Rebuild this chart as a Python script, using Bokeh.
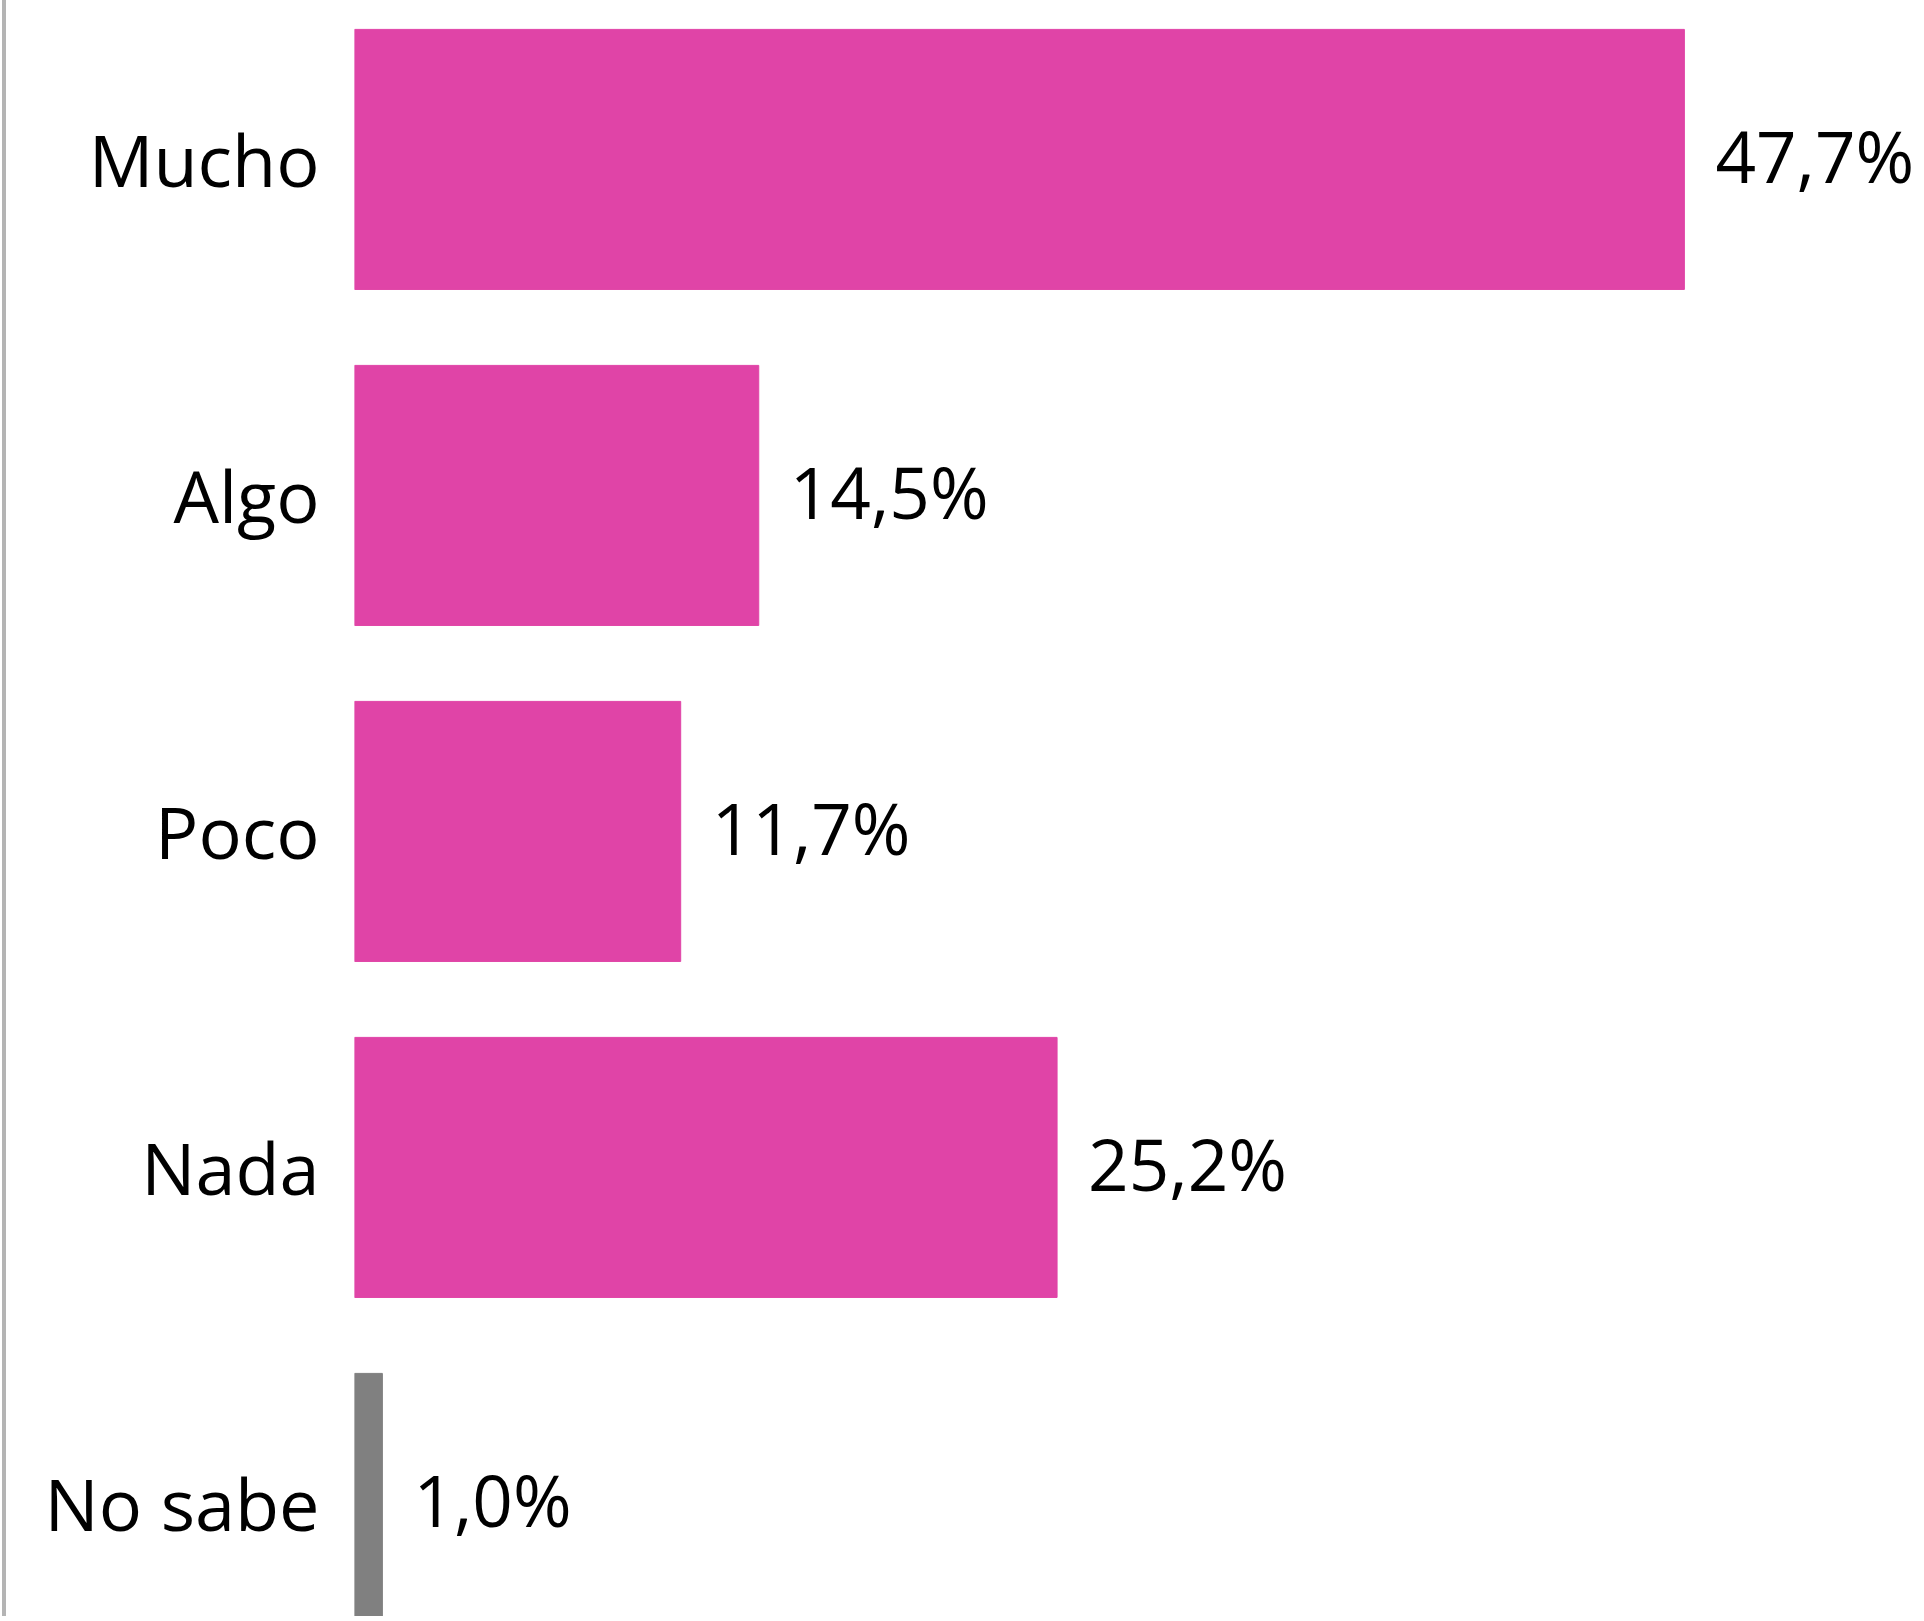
from bokeh.plotting import figure
from bokeh.models import ColumnDataSource, Range1d, FixedTicker, Div
from bokeh.layouts import row
from bokeh.embed import file_html
from bokeh.resources import INLINE
from bokeh.core.properties import value

categories = ["Mucho", "Algo", "Poco", "Nada", "No sabe"]
values = [47.7, 14.5, 11.7, 25.2, 1.0]
labels = ["47,7%", "14,5%", "11,7%", "25,2%", "1,0%"]
colors = ["#E044A7", "#E044A7", "#E044A7", "#E044A7", "#808080"]

n = len(categories)
ypos = [n - 1 - i + 0.5 for i in range(n)]

src = ColumnDataSource(dict(y=ypos, v=values, lab=labels, c=colors, cat=categories))

W, H = 1912, 1616
LB = 348
PXU = 27.88
p = figure(width=W, height=H, output_backend="svg", toolbar_location=None,
           x_range=Range1d(0, (W - LB) / PXU), y_range=Range1d(4.973 - H / 336.0, 4.973),
           min_border_left=LB, min_border_right=0, min_border_top=0, min_border_bottom=0)
p.hbar(y="y", left=0, right="v", height=0.774, color="c", source=src)
p.text(x="v", y="y", text="lab", x_offset=31, y_offset=-4, text_align="left", text_baseline="middle",
       text_font=value("Open Sans"), text_font_size="71px", text_color="black", source=src)

p.xaxis.visible = False
p.yaxis.ticker = FixedTicker(ticks=ypos)
p.yaxis.major_label_overrides = {y: c for y, c in zip(ypos, categories)}
p.yaxis.major_label_text_font = "Open Sans"
p.yaxis.major_label_text_font_size = "72px"
p.yaxis.major_label_text_color = "black"
p.yaxis.major_label_standoff = 35
p.yaxis.major_tick_out = 0
p.yaxis.major_tick_in = 0
p.yaxis.minor_tick_out = 0
p.yaxis.minor_tick_in = 0
p.yaxis.axis_line_color = None
p.yaxis.major_tick_line_color = None
p.yaxis.minor_tick_line_color = None
p.grid.visible = False
p.outline_line_color = None

bar = Div(width=6, height=H, styles={"background": "linear-gradient(to right, #ffffff 2px, #b4b4b4 2px)",
                                     "padding": "0", "margin": "0"})
layout = row(bar, p, spacing=0)

open("out.html", "w").write(file_html(layout, INLINE))
